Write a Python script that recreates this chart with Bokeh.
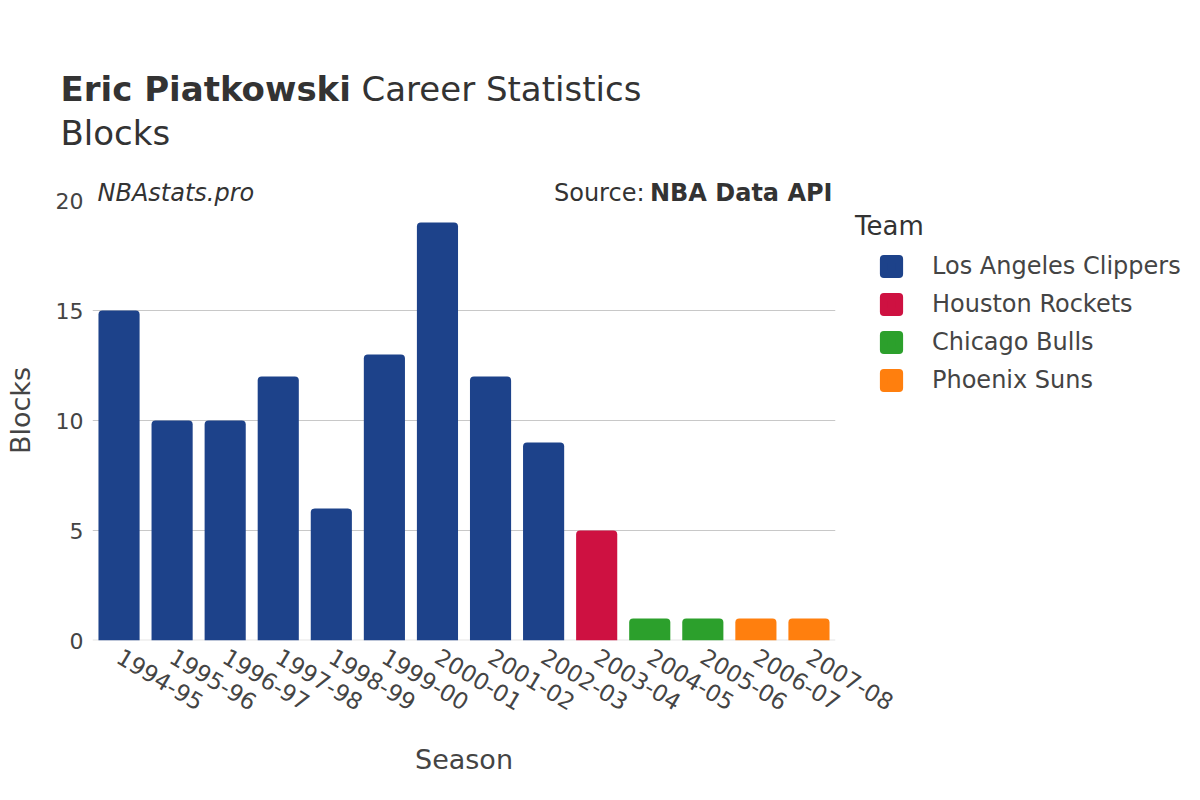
import math
from bokeh.plotting import figure
from bokeh.layouts import column, row
from bokeh.models import (ColumnDataSource, FactorRange, Range1d, Label, Legend, LegendItem,
                          FixedTicker, Span)
from bokeh.embed import file_html
from bokeh.resources import INLINE

seasons = ["1994-95", "1995-96", "1996-97", "1997-98", "1998-99", "1999-00", "2000-01",
           "2001-02", "2002-03", "2003-04", "2004-05", "2005-06", "2006-07", "2007-08"]
blocks = [15, 10, 10, 12, 6, 13, 19, 12, 9, 5, 1, 1, 1, 1]
teams = ["Los Angeles Clippers"] * 9 + ["Houston Rockets"] + ["Chicago Bulls"] * 2 + ["Phoenix Suns"] * 2
team_order = ["Los Angeles Clippers", "Houston Rockets", "Chicago Bulls", "Phoenix Suns"]
team_colors = {"Los Angeles Clippers": "#1D428A", "Houston Rockets": "#CE1141",
               "Chicago Bulls": "#2CA02C", "Phoenix Suns": "#FF7F0E"}
y_ticks = [0, 5, 10, 15, 20]

FONT = "DejaVu Sans"
TOTAL_W, TOTAL_H = 1190, 790
HEAD_H = 178
BODY_H = TOTAL_H - HEAD_H


def lab(fig, text, x, y, size, style="normal", align="left", baseline="middle",
        color="#333333", units="data"):
    fig.add_layout(Label(x=x, y=y, x_units=units, y_units=units, text=text,
                         text_font=FONT, text_font_size=size, text_font_style=style,
                         text_align=align, text_baseline=baseline, text_color=color))


# ---- header (page coordinates: y grows downward) ----
head = figure(width=TOTAL_W, height=HEAD_H, x_range=Range1d(0, TOTAL_W), y_range=Range1d(HEAD_H, 0),
              output_backend="svg", toolbar_location=None, min_border=0,
              x_axis_location=None, y_axis_location=None, title_location=None)
head.grid.visible = False
head.outline_line_color = None
lab(head, "Eric Piatkowski", 60, 88, "34px", style="bold")
lab(head, "Career Statistics", 361, 88, "34px")
lab(head, "Blocks", 60, 132, "34px")

# ---- chart ----
FL, FR = 92, 835
F_TOP, F_BOT = 180, 640       # page y of frame edges
Y_TOP = 20 * (F_BOT - F_TOP) / (F_BOT - 200)
p = figure(frame_width=FR - FL, frame_height=F_BOT - F_TOP,
           x_range=FactorRange(*seasons, range_padding=0),
           y_range=Range1d(0, Y_TOP), output_backend="svg", toolbar_location=None,
           min_border_left=FL, min_border_right=TOTAL_W - FR, title_location=None,
           min_border_top=F_TOP - HEAD_H, min_border_bottom=TOTAL_H - F_BOT)
p.outline_line_color = None

for t in team_order:
    idx = [i for i, tm in enumerate(teams) if tm == t]
    src = ColumnDataSource(dict(x=[seasons[i] for i in idx], y=[blocks[i] for i in idx]))
    p.vbar(x="x", top="y", width=0.775, source=src, color=team_colors[t],
           line_color=None, border_radius=(4, 4, 0, 0))
    # hidden marker renderer that only supplies the rounded legend swatch
    r = p.scatter(x="x", y="y", source=src, marker="square", size=10,
                  fill_color=team_colors[t], line_color=team_colors[t], line_width=8,
                  line_join="round", visible=False)
    team_colors[t] = (team_colors[t], r)

p.add_layout(Span(location=0, dimension="width", line_color="#e6e6e6", line_width=2, level="underlay"))

p.xgrid.visible = False
p.ygrid.ticker = FixedTicker(ticks=[5, 10, 15])
p.ygrid.grid_line_color = "#c8c8c8"
p.ygrid.grid_line_width = 1

p.yaxis.ticker = FixedTicker(ticks=y_ticks)
for ax in (p.xaxis, p.yaxis):
    ax.axis_line_color = None
    ax.major_tick_line_color = None
    ax.minor_tick_line_color = None
    ax.major_label_text_font = FONT
    ax.major_label_text_color = "#444444"
    ax.axis_label_text_font = FONT
    ax.axis_label_text_font_size = "27px"
    ax.axis_label_text_font_style = "normal"
    ax.axis_label_text_color = "#444444"
p.yaxis.major_label_text_font_size = "22px"
p.xaxis.major_label_text_font_size = "23px"
p.yaxis.major_label_standoff = 3
p.xaxis.major_label_standoff = 8
p.xaxis.major_label_orientation = -math.radians(31)
p.yaxis.axis_label = "Blocks"
p.yaxis.axis_label_standoff = 17
p.xaxis.axis_label = "Season"
p.xaxis.axis_label_standoff = 22

FW = FR - FL
lab(p, "NBAstats.pro", 5, F_BOT - 192, "24px", style="italic", units="screen")
lab(p, "NBA Data API", FW - 3, F_BOT - 192, "24px", style="bold", align="right", units="screen")
lab(p, "Source:", 552, F_BOT - 192, "24px", align="right", units="screen")

# ---- legend (right side panel) ----
items = [LegendItem(label=t, renderers=[team_colors[t][1]]) for t in team_order]
legend = Legend(items=items, location=(20, 241), padding=0, margin=0,
                title="Team", title_text_font=FONT, title_text_font_size="26px",
                title_text_font_style="normal", title_text_color="#333333", title_standoff=6,
                glyph_width=72, glyph_height=38, label_height=38, spacing=0,
                label_standoff=5, label_text_font=FONT, label_text_font_size="24px",
                label_text_color="#444444", border_line_color=None, background_fill_alpha=0)
p.add_layout(legend, "right")

layout = column(head, row(p), spacing=0)
open("out.html", "w").write(file_html(layout, INLINE))
